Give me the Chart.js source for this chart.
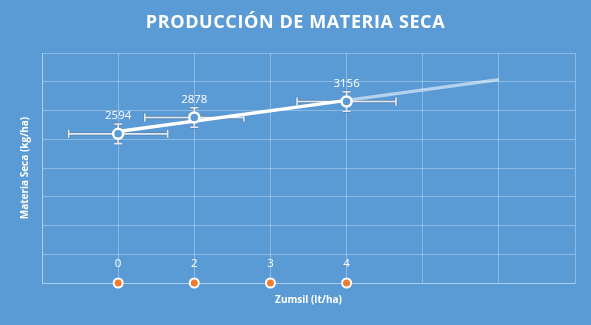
<!DOCTYPE html>
<html lang="es">
<head>
<meta charset="utf-8">
<title>Producción de materia seca</title>
<script src="https://cdn.jsdelivr.net/npm/chart.js@4"></script>
<style>
  html, body { margin: 0; padding: 0; background: #5b9bd5; }
  #wrap { width: 591px; height: 325px; }
</style>
</head>
<body>
<div id="wrap"><canvas id="chart"></canvas></div>
<script>
// Dosis de Zumsil (etiquetas) y su posición en el eje X
const doseLabels = ['0', '2', '3', '4'];
const dosePositions = [1, 2, 3, 4];

// Producción de materia seca (kg/ha)
const yieldPositions = [1, 2, 4];
const yieldValues = [2594, 2878, 3156];

// Barras de error (horizontal en unidades de X, vertical en kg/ha)
const xError = 0.65;
const yError = 170;

// Línea de tendencia
const trendPositions = [1, 4, 6];
const trendValues = [2635, 3176, 3537];

const chartTitle = 'PRODUCCIÓN DE MATERIA SECA';

const WHITE = '#ffffff';
const GRID = 'rgba(255, 255, 255, 0.3)';
const FONT = '"Open Sans", "DejaVu Sans", sans-serif';

/**
 * Draws the letter-spaced chart title
 */
const titleText = {
    id: 'titleText',
    afterDraw(chart) {
        const { ctx } = chart;
        ctx.save();
        ctx.fillStyle = WHITE;
        ctx.font = 'bold 18px ' + FONT;
        ctx.letterSpacing = '0.6px';
        ctx.textAlign = 'center';
        ctx.textBaseline = 'middle';
        ctx.fillText(chartTitle, chart.width / 2, 23);
        ctx.restore();
    }
};

/**
 * Draws the error bars of the yield series using the chart scales
 */
const errorBars = {
    id: 'errorBars',
    beforeDatasetsDraw(chart) {
        const { ctx, scales: { x, y } } = chart;
        ctx.save();
        ctx.lineCap = 'butt';
        const cap = 4;
        [['rgba(90, 110, 140, 0.45)', 3.5], ['rgba(235, 240, 247, 0.95)', 1.6]].forEach(([color, width]) => {
            ctx.strokeStyle = color;
            ctx.lineWidth = width;
            yieldPositions.forEach((pos, i) => {
                const cx = x.getPixelForValue(pos);
                const cy = y.getPixelForValue(yieldValues[i]);
                const x0 = x.getPixelForValue(pos - xError);
                const x1 = x.getPixelForValue(pos + xError);
                const y0 = y.getPixelForValue(yieldValues[i] + yError);
                const y1 = y.getPixelForValue(yieldValues[i] - yError);
                ctx.beginPath();
                ctx.moveTo(x0, cy); ctx.lineTo(x1, cy);
                ctx.moveTo(x0, cy - cap); ctx.lineTo(x0, cy + cap);
                ctx.moveTo(x1, cy - cap); ctx.lineTo(x1, cy + cap);
                ctx.moveTo(cx, y0); ctx.lineTo(cx, y1);
                ctx.moveTo(cx - cap, y0); ctx.lineTo(cx + cap, y0);
                ctx.moveTo(cx - cap, y1); ctx.lineTo(cx + cap, y1);
                ctx.stroke();
            });
        });
        ctx.restore();
    }
};

/**
 * Draws value labels above the points
 */
const pointLabels = {
    id: 'pointLabels',
    afterDatasetsDraw(chart) {
        const { ctx } = chart;
        ctx.save();
        ctx.fillStyle = WHITE;
        ctx.font = '11.5px ' + FONT;
        ctx.textAlign = 'center';
        ctx.textBaseline = 'middle';
        chart.getDatasetMeta(0).data.forEach((pt, i) => {
            ctx.fillText(String(yieldValues[i]), pt.x, pt.y - 18);
        });
        chart.getDatasetMeta(3).data.forEach((pt, i) => {
            ctx.fillText(doseLabels[i], pt.x, pt.y - 19);
        });
        ctx.restore();
    }
};

new Chart(document.getElementById('chart'), {
    type: 'scatter',
    data: {
        datasets: [
            {
                label: 'Materia seca',
                data: yieldPositions.map((x, i) => ({ x, y: yieldValues[i] })),
                showLine: false,
                pointRadius: 5,
                pointBorderWidth: 2.5,
                pointBackgroundColor: '#5b9bd5',
                pointBorderColor: WHITE,
                order: 0
            },
            {
                label: 'Tendencia',
                data: trendPositions.slice(0, 2).map((x, i) => ({ x, y: trendValues[i] })),
                showLine: true,
                borderColor: WHITE,
                borderWidth: 3.5,
                pointRadius: 0,
                order: 1
            },
            {
                label: 'Pronóstico',
                data: trendPositions.slice(1).map((x, i) => ({ x, y: trendValues[i + 1] })),
                showLine: true,
                borderColor: 'rgba(255, 255, 255, 0.55)',
                borderWidth: 3.5,
                pointRadius: 0,
                order: 2
            },
            {
                label: 'Dosis',
                data: dosePositions.map(x => ({ x, y: 0 })),
                showLine: false,
                pointRadius: 4.5,
                pointBorderWidth: 2,
                pointBackgroundColor: '#ed7d31',
                pointBorderColor: WHITE,
                clip: false,
                order: 0
            }
        ]
    },
    options: {
        responsive: true,
        maintainAspectRatio: false,
        animation: false,
        layout: { padding: { top: 53, left: 19, right: 16, bottom: 19 } },
        scales: {
            x: {
                type: 'linear',
                min: 0,
                max: 7,
                ticks: { display: false, stepSize: 1 },
                grid: { color: GRID, lineWidth: 1, drawTicks: false },
                border: { color: GRID },
                title: {
                    display: true,
                    text: 'Zumsil (lt/ha)',
                    color: WHITE,
                    font: { family: FONT, size: 10, weight: 'bold' },
                    padding: { top: 11, bottom: 0 }
                }
            },
            y: {
                min: 0,
                max: 4000,
                ticks: { display: false, stepSize: 500 },
                grid: { color: GRID, lineWidth: 1, drawTicks: false },
                border: { color: GRID },
                title: {
                    display: true,
                    text: 'Materia Seca (kg/ha)',
                    color: WHITE,
                    font: { family: FONT, size: 10, weight: 'bold' },
                    padding: { top: 0, bottom: 11 }
                }
            }
        },
        plugins: {
            legend: { display: false },
            tooltip: { enabled: false },
            title: { display: false }
        }
    },
    plugins: [titleText, errorBars, pointLabels]
});
</script>
</body>
</html>
